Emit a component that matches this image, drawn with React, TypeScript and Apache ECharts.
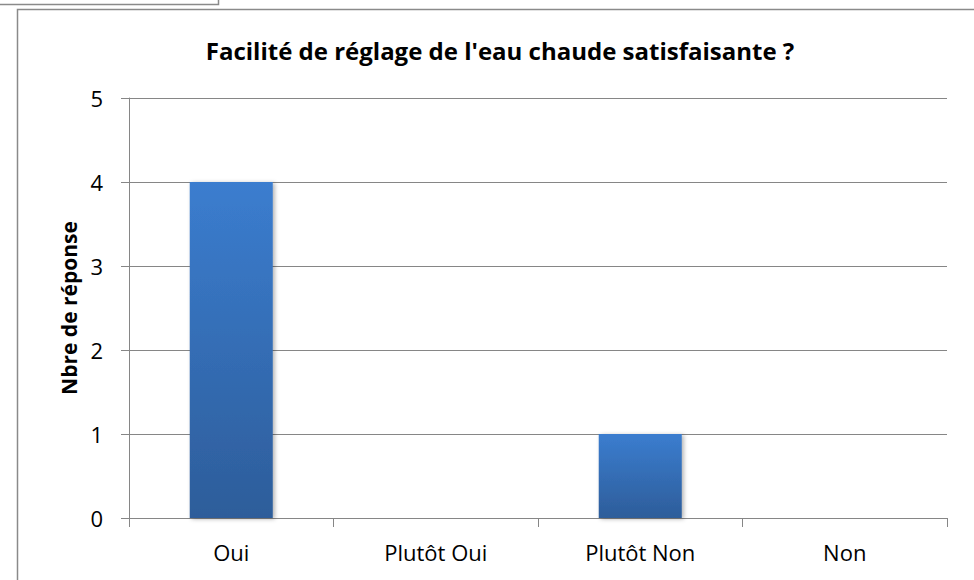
import React, { useEffect, useRef } from "react";
import * as echarts from "echarts";

const categories = ["Oui", "Plutôt Oui", "Plutôt Non", "Non"];
const values = [4, 0, 1, 0];
const titleText = "Facilité de réglage de l'eau chaude satisfaisante ?";
const yAxisName = "Nbre de réponse";

const FONT = "'Open Sans', 'Noto Sans', sans-serif";

export default function App() {
  const ref = useRef<HTMLDivElement>(null);
  useEffect(() => {
    if (!ref.current) return;
    const chart = echarts.init(ref.current, null, { renderer: "svg" });
    chart.setOption({
      animation: false,
      backgroundColor: "#ffffff",
      textStyle: { fontFamily: FONT },
      title: {
        text: titleText,
        left: 495,
        top: 33,
        textAlign: "center",
        textStyle: { fontFamily: FONT, fontWeight: "bold", fontSize: 24, color: "#000" },
      },
      graphic: [
        {
          type: "rect",
          shape: { x: -10, y: -10, width: 228.5, height: 14.5 },
          style: { fill: "none", stroke: "#8a8a8a", lineWidth: 1.5 },
          silent: true,
        },
        {
          type: "rect",
          shape: { x: 17.5, y: 9.5, width: 1000, height: 700 },
          style: { fill: "none", stroke: "#8a8a8a", lineWidth: 1.5 },
          silent: true,
        },
      ],
      grid: { left: 129, right: 27, top: 98, bottom: 62, containLabel: false },
      xAxis: {
        type: "category",
        data: categories,
        axisLine: { show: true, lineStyle: { color: "#868686", width: 1 } },
        axisTick: { show: true, length: 9, lineStyle: { color: "#868686" } },
        axisLabel: { color: "#000", fontSize: 22, fontFamily: FONT, margin: 23 },
      },
      yAxis: {
        type: "value",
        min: 0,
        max: 5,
        interval: 1,
        name: yAxisName,
        nameLocation: "middle",
        nameRotate: 90,
        nameGap: 45,
        nameTextStyle: { fontFamily: FONT, fontWeight: "bold", fontSize: 21, color: "#000" },
        axisLine: { show: true, lineStyle: { color: "#868686", width: 1 } },
        axisTick: { show: true, inside: false, length: 8, lineStyle: { color: "#868686" } },
        axisLabel: { color: "#000", fontSize: 22, fontFamily: FONT, margin: 26 },
        splitLine: { show: true, lineStyle: { color: "#868686", width: 1 } },
      },
      series: [
        {
          type: "bar",
          data: values,
          barWidth: "40.6%",
          itemStyle: {
            color: new echarts.graphic.LinearGradient(0, 0, 0, 1, [
              { offset: 0, color: "#3b7dcf" },
              { offset: 1, color: "#2d5d9a" },
            ]),
            shadowBlur: 4,
            shadowColor: "rgba(0,0,0,0.3)",
            shadowOffsetX: 2,
            shadowOffsetY: 1,
          },
        },
      ],
    });
    return () => chart.dispose();
  }, []);
  return (
    <div
      ref={ref}
      style={{ position: "fixed", left: 0, top: 0, width: 974, height: 580 }}
    />
  );
}
